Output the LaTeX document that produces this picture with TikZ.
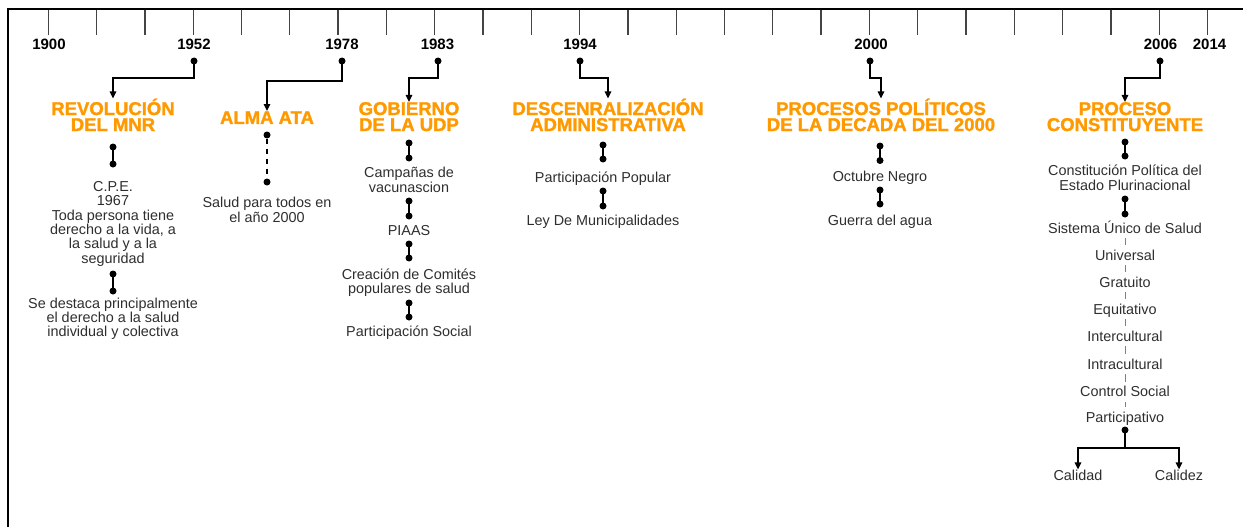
\documentclass[tikz,border=0pt]{standalone}
\usepackage{fontspec}
\setmainfont{Liberation Sans}
\newfontfamily\heavyfont[FakeBold=1.5]{Liberation Sans}
\usetikzlibrary{arrows.meta, positioning}
\definecolor{titleorange}{HTML}{FF9900}
\definecolor{bodygray}{HTML}{2E2E2E}
\definecolor{tickgray}{HTML}{444444}

\begin{document}
\begin{tikzpicture}[x=1pt, y=-1pt,
        year/.style={font=\fontsize{15}{15}\selectfont\bfseries, inner sep=0pt},
        title/.style={text=titleorange, font=\fontsize{18.5}{16}\heavyfont\bfseries, align=center, inner sep=0pt, anchor=base},
        info/.style={text=bodygray, font=\fontsize{14.4}{14.3}\selectfont, align=center, inner sep=0pt, anchor=base},
        entry/.style={info, text height=10.5pt, text depth=3pt},
        dot/.style={circle, fill=black, inner sep=0pt, minimum size=7pt},
        link/.style={line width=2pt},
        dashlink/.style={line width=1.6pt, dash pattern=on 5pt off 5pt},
        thinlink/.style={draw=gray, line width=0.9pt, shorten <=2pt, shorten >=4pt},
        arrow/.style={-{Triangle[length=7pt, width=6.5pt]}, line width=1.4pt},
        tick/.style={draw=tickgray, line width=1.3pt}
    ]
        \useasboundingbox (0,0) rectangle (1243,527);

        % Frame and ticks
        \draw[line width=2.5pt] (8,527) -- (8,9) -- (1243,9);
        \foreach \i in {0,...,24}
            \draw[tick] ({48.3+48.3*\i},10) -- ++(0,25);

        % Years
        \node[year] (y1900) at (49,44.5) {1900};
        \node[year] (y1952) at (194,44.5) {1952};
        \node[year] (y1978) at (342,44.5) {1978};
        \node[year] (y1983) at (437.5,44.5) {1983};
        \node[year] (y1994) at (580,44.5) {1994};
        \node[year] (y2000) at (871,44.5) {2000};
        \node[year] (y2006) at (1160.5,44.5) {2006};
        \node[year] (y2014) at (1209.5,44.5) {2014};

        \node[dot] (d1952) at (194,61) {};
        \node[dot] (d1978) at (342,61) {};
        \node[dot] (d1983) at (438,61) {};
        \node[dot] (d1994) at (580,61) {};
        \node[dot] (d2000) at (870,61) {};
        \node[dot] (d2006) at (1160,61) {};

        % Titles (placed by the baseline of their last line)
        \node[title] (t1952) at (113,131) {REVOLUCIÓN\\DEL MNR};
        \node[title] (t1978) at (267,124) {ALMA ATA};
        \node[title] (t1983) at (409,131) {GOBIERNO\\DE LA UDP};
        \node[title] (t1994) at (608,131) {DESCENRALIZACIÓN\\ADMINISTRATIVA};
        \node[title] (t2000) at (881,131) {PROCESOS POLÍTICOS\\DE LA DECADA DEL 2000};
        \node[title] (t2006) at (1125,131) {PROCESO\\CONSTITUYENTE};

        % Arrows from years to titles
        \draw[arrow] (d1952.center) -- ++(0,17) -| (t1952.north);
        \draw[arrow] (d1978.center) -- ++(0,20) -| (t1978.north);
        \draw[arrow] (d1983.center) -- ++(0,17) -| (t1983.north);
        \draw[arrow] (d1994.center) -- ++(0,17) -| (t1994.north);
        \draw[arrow] (d2000.center) -- ++(0,17) -| (t2000.north);
        \draw[arrow] (d2006.center) -- ++(0,17) -| (t2006.north);

        % Revolucion del MNR
        \node[dot] (a1) at (113,147) {};
        \node[dot] (b1) at (113,164) {};
        \node[info] (cpe) at (113,263) {C.P.E.\\1967\\Toda persona tiene\\derecho a la vida, a\\la salud y a la\\seguridad};
        \node[dot] (a2) at (113,274) {};
        \node[dot] (b2) at (113,291) {};
        \node[info] (destaca) at (113,336.7) {Se destaca principalmente\\el derecho a la salud\\individual y colectiva};
        \draw[link] (a1.center) -- (b1.center);
        \draw[link] (a2.center) -- (b2.center);

        % Alma Ata
        \node[dot] (a3) at (267,135) {};
        \node[dot] (b3) at (267,182) {};
        \node[info] (salud) at (267,222) {Salud para todos en\\el año 2000};
        \draw[dashlink] (a3) -- (b3);

        % Gobierno de la UDP
        \node[dot] (a4) at (409,143) {};
        \node[dot] (b4) at (409,158) {};
        \node[info] (vacuna) at (409,192) {Campañas de\\vacunascion};
        \node[dot] (a5) at (409,201) {};
        \node[dot] (b5) at (409,216) {};
        \node[info] (piaas) at (409,235) {PIAAS};
        \node[dot] (a6) at (409,244) {};
        \node[dot] (b6) at (409,258) {};
        \node[info] (comites) at (409,293.3) {Creación de Comités\\populares de salud};
        \node[dot] (a7) at (409,303) {};
        \node[dot] (b7) at (409,317) {};
        \node[info] (social) at (409,336.7) {Participación Social};
        \draw[link] (a4.center) -- (b4.center);
        \draw[link] (a5.center) -- (b5.center);
        \draw[link] (a6.center) -- (b6.center);
        \draw[link] (a7.center) -- (b7.center);

        % Descentralizacion
        \node[dot] (a8) at (603,145) {};
        \node[dot] (b8) at (603,159) {};
        \node[info] (popular) at (603,182) {Participación Popular};
        \node[dot] (a9) at (603,191) {};
        \node[dot] (b9) at (603,206) {};
        \node[info] (ley) at (603,225) {Ley De Municipalidades};
        \draw[link] (a8.center) -- (b8.center);
        \draw[link] (a9.center) -- (b9.center);

        % Procesos politicos
        \node[dot] (a10) at (880,146) {};
        \node[dot] (b10) at (880,160.5) {};
        \node[info] (octubre) at (880,181.7) {Octubre Negro};
        \node[dot] (a11) at (880,190) {};
        \node[dot] (b11) at (880,204) {};
        \node[info] (agua) at (880,225) {Guerra del agua};
        \draw[link] (a10.center) -- (b10.center);
        \draw[link] (a11.center) -- (b11.center);

        % Proceso constituyente
        \node[dot] (a12) at (1125,142) {};
        \node[dot] (b12) at (1125,156) {};
        \node[info] (cpep) at (1125,190) {Constitución Política del\\Estado Plurinacional};
        \node[dot] (a13) at (1125,199) {};
        \node[dot] (b13) at (1125,214) {};
        \node[entry] (sus) at (1125,233) {Sistema Único de Salud};
        \node[entry] (e1) at (1125,260) {Universal};
        \node[entry] (e2) at (1125,287) {Gratuito};
        \node[entry] (e3) at (1125,314) {Equitativo};
        \node[entry] (e4) at (1125,341) {Intercultural};
        \node[entry] (e5) at (1125,369) {Intracultural};
        \node[entry] (e6) at (1125,396.7) {Control Social};
        \node[entry] (e7) at (1125,422) {Participativo};
        \draw[link] (a12.center) -- (b12.center);
        \draw[link] (a13.center) -- (b13.center);
        \draw[thinlink] (sus) -- (e1);
        \draw[thinlink] (e1) -- (e2);
        \draw[thinlink] (e2) -- (e3);
        \draw[thinlink] (e3) -- (e4);
        \draw[thinlink] (e4) -- (e5);
        \draw[thinlink] (e5) -- (e6);
        \draw[thinlink] (e6) -- (e7);

        \node[dot] (d14) at (1125,430) {};
        \node[info] (calidad) at (1078,480) {Calidad};
        \node[info] (calidez) at (1179,480) {Calidez};
        \draw[arrow] (d14.center) -- ++(0,18) -| (calidad.north);
        \draw[arrow] (d14.center) -- ++(0,18) -| (calidez.north);
    \end{tikzpicture}
\end{document}
